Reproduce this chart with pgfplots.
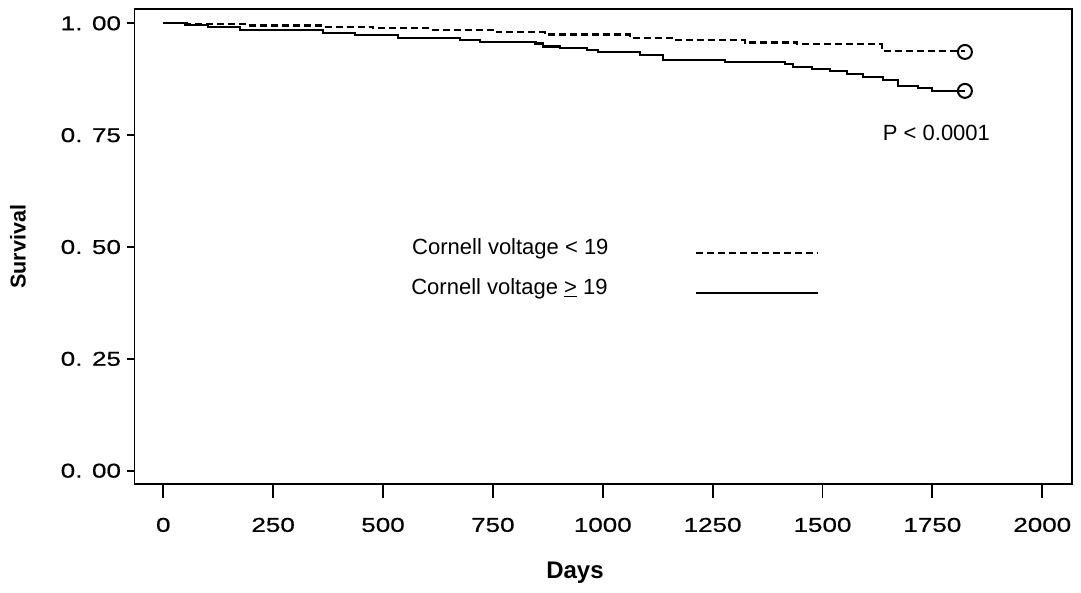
\documentclass[border=0pt]{standalone}
\usepackage{fontspec}
\setmainfont{Liberation Sans}
\newfontfamily\tickfont[FakeStretch=1.3,FakeBold=0.6]{Liberation Sans}
\usepackage{pgfplots}
\pgfplotsset{compat=1.18}
\begin{document}
\begin{tikzpicture}
\path[use as bounding box] (0,0) rectangle (1081pt,592pt);
\begin{axis}[
  at={(134.5pt,107.7pt)}, anchor=south west,
  scale only axis, width=937.2pt, height=475.3pt,
  xmin=-65.5, xmax=2067, ymin=-0.0304, ymax=1.032,
  axis line style={line width=1.9pt},
  tick align=outside, xtick pos=lower, ytick pos=left,
  major tick length=7pt,
  x tick style={/pgfplots/major tick length=14pt, line width=1.9pt, black},
  y tick style={line width=1.9pt, black},
  xtick={0,250,500,750,1000,1250,1500,1750,2000},
  xticklabels={0,250,500,750,1000,1250,1500,1750,2000},
  ytick={0,0.25,0.5,0.75,1},
  yticklabels={0. 00,0. 25,0. 50,0. 75,1. 00},
  x tick label style={font=\tickfont\fontsize{20}{20}\selectfont, yshift=-23pt},
  y tick label style={font=\tickfont\fontsize{20}{20}\selectfont, xshift=-3pt},
  xlabel={Days}, ylabel={Survival},
  xlabel style={font=\bfseries\fontsize{24}{24}\selectfont, at={(axis description cs:0.470,-0.1866)}, anchor=center},
  ylabel style={font=\bfseries\fontsize{21.5}{21.5}\selectfont, at={(axis description cs:-0.1243,0.5)}, anchor=center, rotate=0},
  clip=false,
]
% Cornell voltage >= 19 (solid)
\addplot[const plot, black, line width=2.2pt] coordinates {
(0,1.000) (49,0.997) (102,0.992) (175,0.985) (363,0.978) (436,0.974) (534,0.968)
(675,0.962) (720,0.958) (847,0.955) (864,0.948) (902,0.945) (964,0.940) (989,0.936)
(1085,0.929) (1137,0.918) (1278,0.913) (1415,0.909) (1432,0.903) (1476,0.898)
(1517,0.893) (1555,0.887) (1592,0.880) (1637,0.873) (1671,0.860) (1717,0.855)
(1749,0.849) (1824,0.849)};
% Cornell voltage < 19 (dashed)
\addplot[const plot, black, line width=2.2pt, dash pattern=on 7pt off 4pt] coordinates {
(0,1.000) (54,0.998) (191,0.995) (363,0.992) (478,0.989) (607,0.985) (759,0.980)
(868,0.975) (1062,0.968) (1160,0.963) (1323,0.957) (1442,0.953) (1635,0.938)
(1824,0.938)};
% censor marks
\addplot[only marks, mark=o, mark size=7pt, mark options={line width=2pt, fill=white, solid}] coordinates {(1824,0.849) (1824,0.936)};
% legend lines
\addplot[black, line width=2.2pt, dash pattern=on 7pt off 4pt] coordinates {(1212,0.4866) (1490,0.4866)};
\addplot[black, line width=2.2pt] coordinates {(1212,0.397) (1490,0.397)};
\node[anchor=base west, inner sep=0pt, font=\fontsize{22}{22}\selectfont] at (axis cs:566,0.484) {Cornell voltage < 19};
\node[anchor=base west, inner sep=0pt, font=\fontsize{22}{22}\selectfont] at (axis cs:564,0.393) {Cornell voltage \underline{>} 19};
\node[anchor=base west, inner sep=0pt, font=\fontsize{22}{22}\selectfont] at (axis cs:1637,0.739) {P < 0.0001};
\end{axis}
\end{tikzpicture}
\end{document}
